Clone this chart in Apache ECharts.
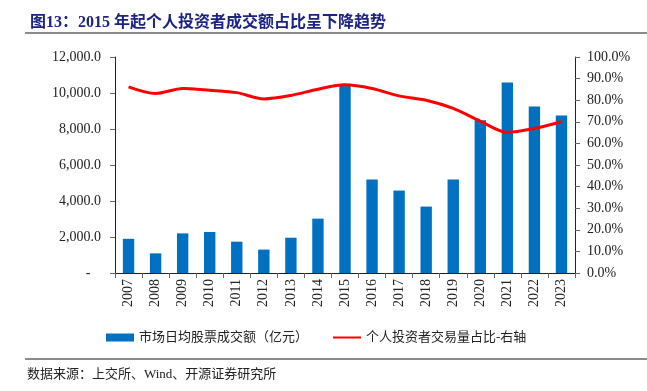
<!DOCTYPE html>
<html>
<head>
<meta charset="utf-8">
<script src="https://cdn.jsdelivr.net/npm/echarts@6/dist/echarts.min.js"></script>
<style>
  html, body { margin: 0; padding: 0; background: #fff; }
  #chart { width: 647px; height: 391px; }
</style>
</head>
<body>
<div id="chart"></div>
<script>
// Data
var years = ['2007', '2008', '2009', '2010', '2011', '2012', '2013', '2014', '2015',
             '2016', '2017', '2018', '2019', '2020', '2021', '2022', '2023'];
// 市场日均股票成交额（亿元）
var turnover = [1900, 1090, 2200, 2280, 1740, 1300, 1960, 3020, 10430,
                5200, 4580, 3690, 5200, 8490, 10580, 9250, 8750];
// 个人投资者交易量占比（%）
var retailShare = [86.2, 83.1, 85.4, 84.6, 83.5, 80.6, 82.2, 85.1, 87.1,
                   85.4, 82.0, 80.0, 76.2, 70.3, 65.1, 66.9, 70.0];

var serif = "'Liberation Serif', 'Times New Roman', serif";
var cjk = "'Liberation Serif', 'Noto Sans CJK SC', serif";

var chart = echarts.init(document.getElementById('chart'));

chart.setOption({
    animation: false,
    backgroundColor: '#fff',
    title: {
        text: '图13：2015 年起个人投资者成交额占比呈下降趋势',
        left: 25,
        top: 10,
        textStyle: {
            fontFamily: cjk,
            fontSize: 16,
            fontWeight: 'bold',
            color: '#1c2483'
        }
    },
    graphic: [
        {
            type: 'line',
            shape: { x1: 25, y1: 33, x2: 647, y2: 33 },
            style: { stroke: '#8c8c8c', lineWidth: 2 }
        },
        {
            type: 'line',
            shape: { x1: 25, y1: 359, x2: 647, y2: 359 },
            style: { stroke: '#8c8c8c', lineWidth: 2 }
        },
        {
            type: 'text',
            left: 27,
            top: 368,
            style: {
                text: '数据来源：上交所、Wind、开源证券研究所',
                font: "13px 'Liberation Serif', 'Noto Sans CJK SC', serif",
                fill: '#222'
            }
        }
    ],
    legend: {
        left: 101,
        top: 326,
        itemGap: 24,
        selectedMode: false,
        textStyle: { fontFamily: cjk, fontSize: 13, color: '#222' },
        data: [
            { name: '市场日均股票成交额（亿元）', icon: 'rect', itemStyle: { color: '#0070c0' } },
            { name: '个人投资者交易量占比-右轴', itemStyle: { opacity: 0 } }
        ],
        itemWidth: 28,
        itemHeight: 8
    },
    grid: {
        left: 115,
        right: 72,
        top: 57,
        bottom: 118
    },
    xAxis: {
        type: 'category',
        data: years,
        axisLine: { lineStyle: { color: '#222', width: 1 } },
        axisTick: { show: true, length: 5, lineStyle: { color: '#666' } },
        axisLabel: {
            rotate: 90,
            margin: 6,
            fontFamily: serif,
            fontSize: 14,
            color: '#222'
        }
    },
    yAxis: [
        {
            type: 'value',
            min: 0,
            max: 12000,
            interval: 2000,
            splitLine: { show: false },
            axisLine: { show: true, lineStyle: { color: '#222' } },
            axisTick: { show: true, length: 5, lineStyle: { color: '#666' } },
            axisLabel: {
                fontFamily: serif,
                fontSize: 14,
                color: '#222',
                margin: 14,
                formatter: function (v) {
                    if (v === 0) return '-   ';
                    return v.toLocaleString('en-US') + '.0';
                }
            }
        },
        {
            type: 'value',
            min: 0,
            max: 100,
            interval: 10,
            position: 'right',
            splitLine: { show: false },
            axisLine: { show: true, lineStyle: { color: '#222' } },
            axisTick: { show: true, length: 5, lineStyle: { color: '#666' } },
            axisLabel: {
                fontFamily: serif,
                fontSize: 14,
                color: '#222',
                margin: 12,
                formatter: function (v) { return v.toFixed(1) + '%'; }
            }
        }
    ],
    series: [
        {
            name: '市场日均股票成交额（亿元）',
            type: 'bar',
            barWidth: '42%',
            itemStyle: { color: '#0070c0' },
            data: turnover
        },
        {
            name: '个人投资者交易量占比-右轴',
            type: 'line',
            yAxisIndex: 1,
            smooth: 0.3,
            symbol: 'none',
            lineStyle: { color: '#ff0000', width: 3 },
            itemStyle: { color: '#ff0000' },
            data: retailShare
        }
    ]
});
</script>
</body>
</html>
